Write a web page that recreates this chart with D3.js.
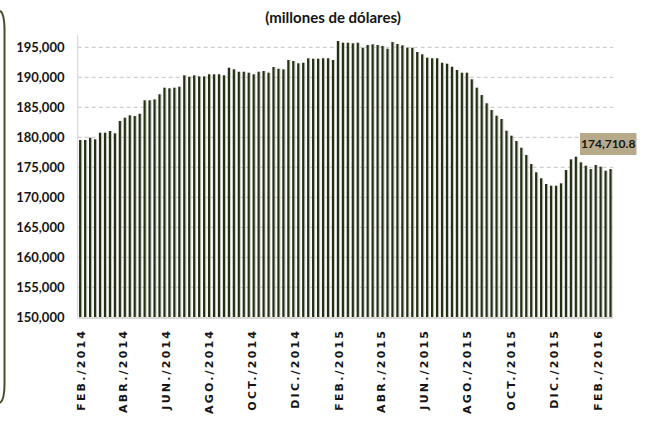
<!DOCTYPE html>
<html>
<head>
<meta charset="utf-8">
<script src="https://cdn.jsdelivr.net/npm/d3@7"></script>
<style>
  html, body { margin: 0; padding: 0; background: #fff; }
  svg { display: block; }
</style>
</head>
<body>
<svg id="chart" width="646" height="421"></svg>
<script>
// ---- data ----
const startDate = "2014-01-31"; // first weekly observation (Friday)
const values = [
  179550, 179550, 179930, 179670, 180770, 180770, 181050, 180670, 182720, 183270,
  183670, 183550, 183930, 186170, 186170, 186330, 187170, 188270, 188170, 188270,
  188430, 190330, 190100, 190330, 190150, 190150, 190500, 190500, 190500, 190330,
  191600, 191330, 190930, 190930, 190770, 190500, 190930, 191050, 190770, 191720,
  191430, 191330, 192880, 192720, 192330, 192430, 193170, 193100, 193100, 193170,
  193170, 192880, 196050, 195770, 195770, 195670, 195770, 194930, 195380, 195500,
  195380, 195220, 194770, 195880, 195550, 195330, 194930, 194930, 194220, 193830,
  193270, 193170, 193170, 192430, 192270, 191770, 191220, 190770, 190770, 189670,
  188270, 187050, 185670, 184550, 183600, 183050, 181100, 180270, 179380, 178270,
  177050, 175550, 174170, 173170, 172220, 171930, 171930, 172330, 174550, 176330,
  176770, 175830, 175270, 174720, 175380, 175100, 174430, 174710.8
];
const tickDates = ["2014-02-01","2014-04-01","2014-06-01","2014-08-01","2014-10-01","2014-12-01",
                   "2015-02-01","2015-04-01","2015-06-01","2015-08-01","2015-10-01","2015-12-01","2016-02-01"];
const tickLabels = ["FEB./2014","ABR./2014","JUN./2014","AGO./2014","OCT./2014","DIC./2014",
                    "FEB./2015","ABR./2015","JUN./2015","AGO./2015","OCT./2015","DIC./2015","FEB./2016"];
const yTicks = [150000,155000,160000,165000,170000,175000,180000,185000,190000,195000];
const title = "(millones de dólares)";
const lastLabel = "174,710.8";

// ---- layout ----
(function () {
const svg = d3.select("#chart");
const parse = d3.utcParse("%Y-%m-%d");
const t0 = parse(startDate);
const dates = values.map((v, i) => d3.utcDay.offset(t0, 7 * i));
const pL = 77.7, pR = 613, pT = 35.3, pB = 317.3;

const x = d3.scaleUtc()
  .domain([d3.utcHour.offset(dates[0], -84), d3.utcHour.offset(dates[dates.length - 1], 84)])
  .range([pL, pR]);
const y = d3.scaleLinear().domain([150000, 197000]).range([pB, pT]);

const fmt = d3.format(",");
const sansFont = "Lato, 'Open Sans', sans-serif";

// left border of neighbouring frame
svg.append("path")
  .attr("d", "M0,11 Q4.5,13 4.5,31 L4.5,384 Q4.5,400 0,403")
  .attr("fill", "none").attr("stroke", "#4b4a2c").attr("stroke-width", 2);

// title
svg.append("text")
  .attr("x", 333).attr("y", 22.5)
  .attr("text-anchor", "middle")
  .style("font-family", sansFont)
  .style("font-weight", 700).style("font-size", "15px")
  .attr("fill", "#141414")
  .text(title);

// gridlines
svg.append("g").selectAll("line")
  .data(yTicks.filter(d => d > 150000))
  .join("line")
  .attr("x1", pL).attr("x2", pR)
  .attr("y1", d => y(d)).attr("y2", d => y(d))
  .attr("stroke", "#c4c4c4").attr("stroke-width", 1)
  .attr("stroke-dasharray", "4,3");

// y axis line
svg.append("line")
  .attr("x1", pL).attr("x2", pL).attr("y1", pT).attr("y2", pB)
  .attr("stroke", "#d9d9d9").attr("stroke-width", 1.2);

// bars
const barW = 2.2;
const gBars = svg.append("g");
gBars.selectAll("rect.sh")
  .data(values).join("rect").attr("class", "sh")
  .attr("x", (d, i) => x(dates[i]) - barW / 2 + barW)
  .attr("width", 1)
  .attr("y", d => y(d)).attr("height", d => pB - y(d))
  .attr("fill", "#c9c9c4");
gBars.selectAll("rect.b")
  .data(values).join("rect").attr("class", "b")
  .attr("x", (d, i) => x(dates[i]) - barW / 2)
  .attr("width", barW)
  .attr("y", d => y(d)).attr("height", d => pB - y(d))
  .attr("fill", "#233014");

// x axis line
svg.append("line")
  .attr("x1", pL).attr("x2", pR).attr("y1", pB + 0.8).attr("y2", pB + 0.8)
  .attr("stroke", "#d9d9d9").attr("stroke-width", 2);

// y labels
svg.append("g").selectAll("text")
  .data(yTicks).join("text")
  .attr("x", 64.5).attr("y", d => y(d))
  .attr("dy", "0.35em")
  .attr("text-anchor", "end")
  .style("font-family", sansFont)
  .style("font-weight", 700).style("font-size", "13px")
  .attr("fill", "#141414")
  .text(d => fmt(d));

// x labels
svg.append("g").selectAll("text")
  .data(tickDates).join("text")
  .attr("transform", d => `translate(${x(parse(d)) + 4},${331}) rotate(-90)`)
  .attr("text-anchor", "end")
  .attr("dx", "2.2px")
  .style("font-family", "'DejaVu Sans', sans-serif")
  .style("font-weight", 700).style("font-size", "11px")
  .style("letter-spacing", "2.2px")
  .attr("fill", "#141414")
  .text((d, i) => tickLabels[i]);

// last value label
svg.append("rect")
  .attr("x", 580).attr("y", 133).attr("width", 56.5).attr("height", 22)
  .attr("fill", "#b7aa8b");
svg.append("text")
  .attr("x", 608.2).attr("y", 144)
  .attr("dy", "0.36em")
  .attr("text-anchor", "middle")
  .style("font-family", sansFont)
  .style("font-weight", 700).style("font-size", "12px")
  .attr("fill", "#141414")
  .text(lastLabel);
})();
</script>
</body>
</html>
